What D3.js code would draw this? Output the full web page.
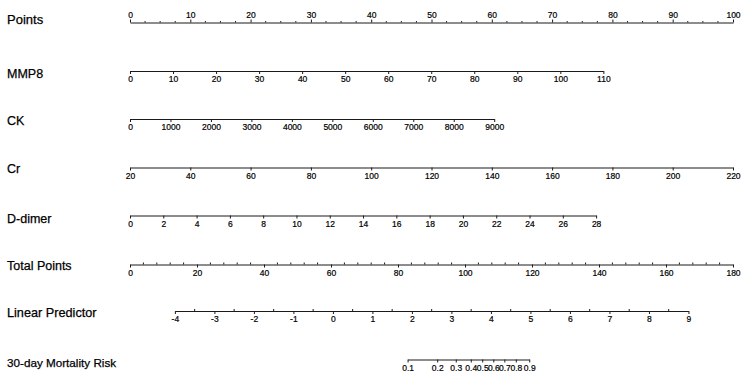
<!DOCTYPE html>
<html>
<head>
<meta charset="utf-8">
<script src="https://cdn.jsdelivr.net/npm/d3@7"></script>
<style>
	body { margin: 0; background: #fff; }
	svg { display: block; font-family: "Liberation Sans", Arial, sans-serif; }
	.domain { stroke: #1a1a1a; stroke-width: 1; }
	.tick line { stroke: #1a1a1a; stroke-width: 1; }
	.tick text { font-size: 8.5px; fill: #000; stroke: #000; stroke-width: 0.2; }
	.row-label { fill: #000; stroke: #000; stroke-width: 0.25; }
</style>
</head>
<body>
<script>
// Шкала баллов
var pointTicks = [0, 10, 20, 30, 40, 50, 60, 70, 80, 90, 100];

// Переменные: значения на шкале и сколько баллов даёт максимум
var mmp8Ticks = [0, 10, 20, 30, 40, 50, 60, 70, 80, 90, 100, 110];
var mmp8MaxPoints = 78.5;
var ckTicks = [0, 1000, 2000, 3000, 4000, 5000, 6000, 7000, 8000, 9000];
var ckMaxPoints = 60.4;
var crTicks = [20, 40, 60, 80, 100, 120, 140, 160, 180, 200, 220];
var crMaxPoints = 100;
var ddimerTicks = [0, 2, 4, 6, 8, 10, 12, 14, 16, 18, 20, 22, 24, 26, 28];
var ddimerMaxPoints = 77.3;

// Суммарные баллы
var totalTicks = [0, 20, 40, 60, 80, 100, 120, 140, 160, 180];

// Линейный предиктор и где он лежит на шкале суммарных баллов
var lpTicks = [-4, -3, -2, -1, 0, 1, 2, 3, 4, 5, 6, 7, 8, 9];
var lpTotalAtEnds = [13.4, 166.7];

// Риск смерти за 30 дней и соответствующий линейный предиктор
var riskTicks = [0.1, 0.2, 0.3, 0.4, 0.5, 0.6, 0.7, 0.8, 0.9];
var riskLP = [1.89, 2.64, 3.11, 3.49, 3.78, 4.06, 4.34, 4.63, 4.97];

function ready() {
	var width = 750,
			height = 379,
			left = 130,
			right = 733,
			plain = function(d) { return String(d); }; // без запятых и юникод-минуса

	var svg = d3.select('body')
		.append('svg')
		.attr('width', width)
		.attr('height', height);

	var pointsX = d3.scaleLinear().domain([0, 100]).range([left, right]),
			totalX = d3.scaleLinear().domain([0, 180]).range([left, right]),
			lpX = d3.scaleLinear().domain([-4, 9]).range(lpTotalAtEnds.map(totalX));

	// подпись строки номограммы
	function rowLabel(text, y, size) {
		svg.append('text')
			.attr('class', 'row-label')
			.attr('x', 7)
			.attr('y', y)
			.style('font-size', size + 'px')
			.text(text);
	}

	// малые засечки
	function minorTicks(g, scale, values, len) {
		g.selectAll('line.minor')
			.data(values)
			.enter()
			.append('line')
			.attr('class', 'minor')
			.attr('x1', function(d) { return scale(d); })
			.attr('x2', function(d) { return scale(d); })
			.attr('y1', 0)
			.attr('y2', len)
			.attr('stroke', '#1a1a1a')
			.attr('stroke-width', 1);
	}

	// Points
	var gPoints = svg.append('g').attr('transform', 'translate(0,22.5)');
	gPoints.call(d3.axisTop(pointsX).tickValues(pointTicks).tickFormat(plain).tickSize(3).tickSizeOuter(0).tickPadding(1.5));
	minorTicks(gPoints, pointsX, d3.range(0, 100, 2.5).filter(function(d) { return d % 10 != 0; }), -1.5);
	rowLabel('Points', 23.5, 13);

	// переменные
	var vars = [
		{ name: 'MMP8', ticks: mmp8Ticks, maxPts: mmp8MaxPoints, y: 71, ly: 78 },
		{ name: 'CK', ticks: ckTicks, maxPts: ckMaxPoints, y: 119, ly: 125 },
		{ name: 'Cr', ticks: crTicks, maxPts: crMaxPoints, y: 167.5, ly: 172.5 },
		{ name: 'D-dimer', ticks: ddimerTicks, maxPts: ddimerMaxPoints, y: 215.5, ly: 223 }
	];

	vars.forEach(function(v) {
		var sc = d3.scaleLinear()
			.domain([v.ticks[0], v.ticks[v.ticks.length - 1]])
			.range([left, pointsX(v.maxPts)]);
		svg.append('g')
			.attr('transform', 'translate(0,' + v.y + ')')
			.call(d3.axisBottom(sc).tickValues(v.ticks).tickFormat(plain).tickSize(3).tickSizeOuter(0).tickPadding(2));
		rowLabel(v.name, v.ly, 12.5);
	});

	// Total Points
	var gTotal = svg.append('g').attr('transform', 'translate(0,264.5)');
	gTotal.call(d3.axisBottom(totalX).tickValues(totalTicks).tickFormat(plain).tickSize(3).tickSizeOuter(0).tickPadding(2));
	minorTicks(gTotal, totalX, d3.range(0, 180, 4).filter(function(d) { return d % 20 != 0; }), -2);
	rowLabel('Total Points', 270, 12.5);

	// Linear Predictor
	var gLP = svg.append('g').attr('transform', 'translate(0,311)');
	gLP.call(d3.axisBottom(lpX).tickValues(lpTicks).tickFormat(plain).tickSize(3).tickSizeOuter(0).tickPadding(2));
	minorTicks(gLP, lpX, d3.range(-3.5, 9, 1), -2);
	rowLabel('Linear Predictor', 316.5, 12.7);

	// 30-day Mortality Risk
	var riskX = d3.scaleLinear().domain(riskTicks).range(riskLP.map(lpX));
	svg.append('g')
		.attr('transform', 'translate(0,359.5)')
		.call(d3.axisBottom(riskX).tickValues(riskTicks).tickSize(3).tickSizeOuter(0).tickPadding(2).tickFormat(d3.format('.1f')));
	rowLabel('30-day Mortality Risk', 367, 11.7);

	// убираем стандартный шрифт осей d3
	svg.selectAll('g').attr('font-family', null).attr('font-size', null);
}

window.onload = function() {
	ready();
};
</script>
</body>
</html>
